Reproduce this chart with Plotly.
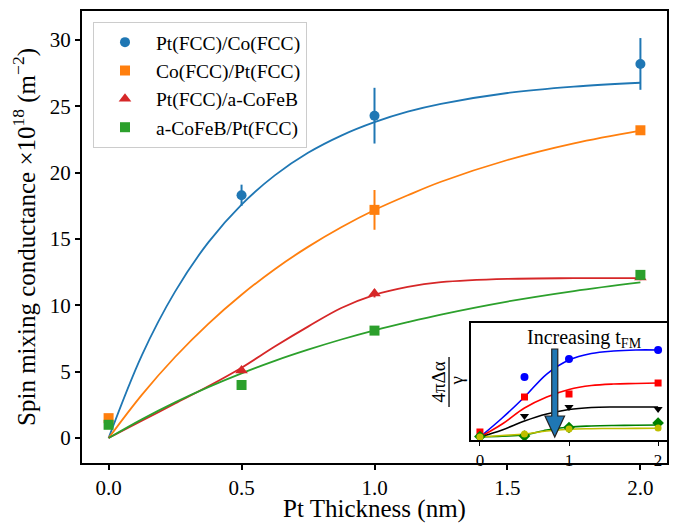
import plotly.graph_objects as go

# ---------------- main panel data ----------------
labels = ["Pt(FCC)/Co(FCC)", "Co(FCC)/Pt(FCC)", "Pt(FCC)/a-CoFeB", "a-CoFeB/Pt(FCC)"]

blue_x = [0.5, 1.0, 2.0]
blue_y = [18.3, 24.3, 28.2]
blue_err = [0.8, 2.1, 1.95]

orange_x = [0.0, 1.0, 2.0]
orange_y = [1.5, 17.2, 23.2]
orange_err = [0.2, 1.5, 0.3]

red_x = [0.5, 1.0, 2.0]
red_y = [5.1, 10.9, 12.1]
red_err = [0.2, 0.3, 0.2]

green_x = [0.0, 0.5, 1.0, 2.0]
green_y = [1.0, 4.0, 8.1, 12.3]
green_err = [0.2, 0.2, 0.2, 0.3]

# fitted curves
fit_x = [0.0, 0.125, 0.25, 0.375, 0.5, 0.625, 0.75, 0.875, 1.0, 1.125, 1.25, 1.5, 1.75, 2.0]
fit_blue = [0.0, 6.24, 11.04, 14.75, 17.6, 19.8, 21.5, 22.8, 23.81, 24.6, 25.19, 26.01, 26.49, 26.78]
fit_orange = [0.0, 3.26, 6.11, 8.61, 10.8, 12.73, 14.41, 15.89, 17.19, 18.3, 19.32, 20.96, 22.22, 23.18]
fit_red = [0.0, 1.3, 2.6, 3.9, 5.3, 6.9, 8.4, 9.8, 10.8, 11.4, 11.75, 12.0, 12.05, 12.05]
fit_green = [0.0, 1.41, 2.69, 3.84, 4.88, 5.82, 6.66, 7.43, 8.12, 8.74, 9.31, 10.29, 11.08, 11.73]

x_ticks = [0.0, 0.5, 1.0, 1.5, 2.0]
y_ticks = [0, 5, 10, 15, 20, 25, 30]

# ---------------- inset data ----------------
in_fit_x = [0.0, 0.25, 0.5, 0.75, 1.0, 1.25, 1.5, 1.75, 2.0]
in_fit_blue = [0.0, 1.9, 4.0, 6.3, 7.7, 8.35, 8.6, 8.7, 8.7]
in_fit_red = [0.0, 1.3, 2.9, 4.0, 4.75, 5.15, 5.3, 5.35, 5.4]
in_fit_black = [0.0, 0.7, 1.6, 2.3, 2.75, 2.95, 3.0, 3.0, 3.0]
in_fit_green = [0.0, 0.08, 0.2, 0.7, 1.0, 1.1, 1.15, 1.18, 1.2]
in_fit_yellow = [0.0, 0.15, 0.3, 0.6, 0.78, 0.83, 0.85, 0.86, 0.87]

in_blue_x = [0.5, 1.0, 2.0]
in_blue_y = [6.0, 7.8, 8.7]
in_red_x = [0.0, 0.5, 1.0, 2.0]
in_red_y = [0.5, 4.0, 4.3, 5.4]
in_black_x = [0.5, 1.0, 2.0]
in_black_y = [2.1, 3.0, 2.8]
in_green_x = [0.0, 0.5, 1.0, 2.0]
in_green_y = [0.05, 0.1, 0.95, 1.4]
in_yellow_x = [0.0, 0.5, 1.0, 2.0]
in_yellow_y = [0.0, 0.3, 0.8, 0.9]
in_x_ticks = [0, 1, 2]

SERIF = "Liberation Serif"
C_BLUE, C_ORANGE, C_RED, C_GREEN = "#1f77b4", "#ff7f0e", "#d62728", "#2ca02c"

fig = go.Figure()

# fit curves (main)
for ys, c in [(fit_blue, C_BLUE), (fit_orange, C_ORANGE), (fit_red, C_RED), (fit_green, C_GREEN)]:
    fig.add_trace(go.Scatter(x=fit_x, y=ys, mode="lines", line=dict(color=c, width=1.8, shape="spline"),
                             showlegend=False, hoverinfo="skip", xaxis="x", yaxis="y"))

# data points (main)
series = [
    (blue_x, blue_y, blue_err, C_BLUE, "circle", 10, labels[0]),
    (orange_x, orange_y, orange_err, C_ORANGE, "square", 10, labels[1]),
    (red_x, red_y, red_err, C_RED, "triangle-up", 11, labels[2]),
    (green_x, green_y, green_err, C_GREEN, "square", 10, labels[3]),
]
for xs, ys, es, c, sym, sz, name in series:
    fig.add_trace(go.Scatter(x=xs, y=ys, mode="markers", name=name,
                             marker=dict(color=c, symbol=sym, size=sz, line=dict(width=0)),
                             error_y=dict(type="data", array=es, visible=True, color=c, thickness=2, width=0),
                             xaxis="x", yaxis="y"))

# inset curves
for ys, c in [(in_fit_blue, "#0000ff"), (in_fit_red, "#ff0000"), (in_fit_black, "#000000"),
              (in_fit_green, "#008000"), (in_fit_yellow, "#bfbf00")]:
    fig.add_trace(go.Scatter(x=in_fit_x, y=ys, mode="lines", line=dict(color=c, width=1.6, shape="spline"),
                             showlegend=False, hoverinfo="skip", xaxis="x2", yaxis="y2"))

for xs, ys, c, sym, sz in [(in_blue_x, in_blue_y, "#0000ff", "circle", 8),
                           (in_red_x, in_red_y, "#ff0000", "square", 7),
                           (in_black_x, in_black_y, "#000000", "triangle-down", 8),
                           (in_green_x, in_green_y, "#008000", "diamond", 9),
                           (in_yellow_x, in_yellow_y, "#bfbf00", "circle", 7)]:
    fig.add_trace(go.Scatter(x=xs, y=ys, mode="markers", showlegend=False,
                             marker=dict(color=c, symbol=sym, size=sz, line=dict(width=0)),
                             xaxis="x2", yaxis="y2"))

# arrow in inset
ax, hw, sw = 0.84, 0.11, 0.034
fig.add_shape(type="path", xref="x2", yref="y2",
              path=(f"M {ax-sw},8.8 L {ax+sw},8.8 L {ax+sw},2.1 L {ax+hw},2.1 L {ax},0 "
                    f"L {ax-hw},2.1 L {ax-sw},2.1 Z"),
              fillcolor=C_BLUE, line=dict(color="#222222", width=1.2), layer="above")

axis_common = dict(showline=True, linecolor="black", linewidth=2, mirror=True, showgrid=False,
                   zeroline=False, ticks="outside", tickcolor="black", tickwidth=1.5, automargin=False,
                   tickfont=dict(family=SERIF, size=21, color="black"))

# the page body adds an 8px offset; size the figure so the plot area lands where the reference has it
fig.update_layout(
    width=683, height=515,
    margin=dict(l=74, r=24, t=3, b=60, autoexpand=False),
    paper_bgcolor="white", plot_bgcolor="white",
    font=dict(family=SERIF, color="black"),
    xaxis=dict(domain=[0, 1], range=[-0.1, 2.1], tickvals=x_ticks, tickformat=".1f", ticklen=5,
               title=dict(text="Pt Thickness (nm)", font=dict(family=SERIF, size=25, color="black"), standoff=4),
               anchor="y", **axis_common),
    yaxis=dict(domain=[0, 1], range=[-1.88, 32.19], tickvals=y_ticks, ticklen=5,
               title=dict(text="Spin mixing conductance ×10<sup>18</sup> (m<sup>−2</sup>)",
                          font=dict(family=SERIF, size=25, color="black"), standoff=10),
               anchor="x", **axis_common),
    xaxis2=dict(domain=[0.665, 1.0], range=[-0.1, 2.1], tickvals=in_x_ticks, ticklen=4, anchor="y2",
                showline=True, linecolor="black", linewidth=2, mirror=True, showgrid=False, zeroline=False,
                ticks="outside", tickcolor="black", tickwidth=1.2, automargin=False,
                tickfont=dict(family=SERIF, size=17, color="black")),
    yaxis2=dict(domain=[0.0509, 0.3097], range=[-0.3, 11.4], anchor="x2", showticklabels=False,
                showline=True, linecolor="black", linewidth=2, mirror=True, showgrid=False, zeroline=False,
                ticks="", automargin=False),
    legend=dict(x=0.0188, y=0.9757, xanchor="left", yanchor="top", bgcolor="white",
                bordercolor="#cccccc", borderwidth=1, itemwidth=52,
                font=dict(family=SERIF, size=19.5, color="black")),
    showlegend=True,
)

# inset annotations
fig.add_annotation(text="Increasing t<sub>FM</sub>", xref="paper", yref="paper", x=0.8598, y=0.2765,
                   xanchor="center", yanchor="middle", showarrow=False,
                   font=dict(family=SERIF, size=20, color="black"))
fig.add_annotation(text="4πΔα", xref="paper", yref="paper", x=0.6077, y=0.1792, textangle=-90,
                   xanchor="center", yanchor="middle", showarrow=False,
                   font=dict(family=SERIF, size=19, color="black"))
fig.add_annotation(text="γ", xref="paper", yref="paper", x=0.6400, y=0.1814, textangle=-90,
                   xanchor="center", yanchor="middle", showarrow=False,
                   font=dict(family=SERIF, size=19, color="black"))
fig.add_shape(type="line", xref="paper", yref="paper", x0=0.6274, x1=0.6274, y0=0.1239, y1=0.2345,
              line=dict(color="black", width=1.3))

fig.write_html("out.html")
